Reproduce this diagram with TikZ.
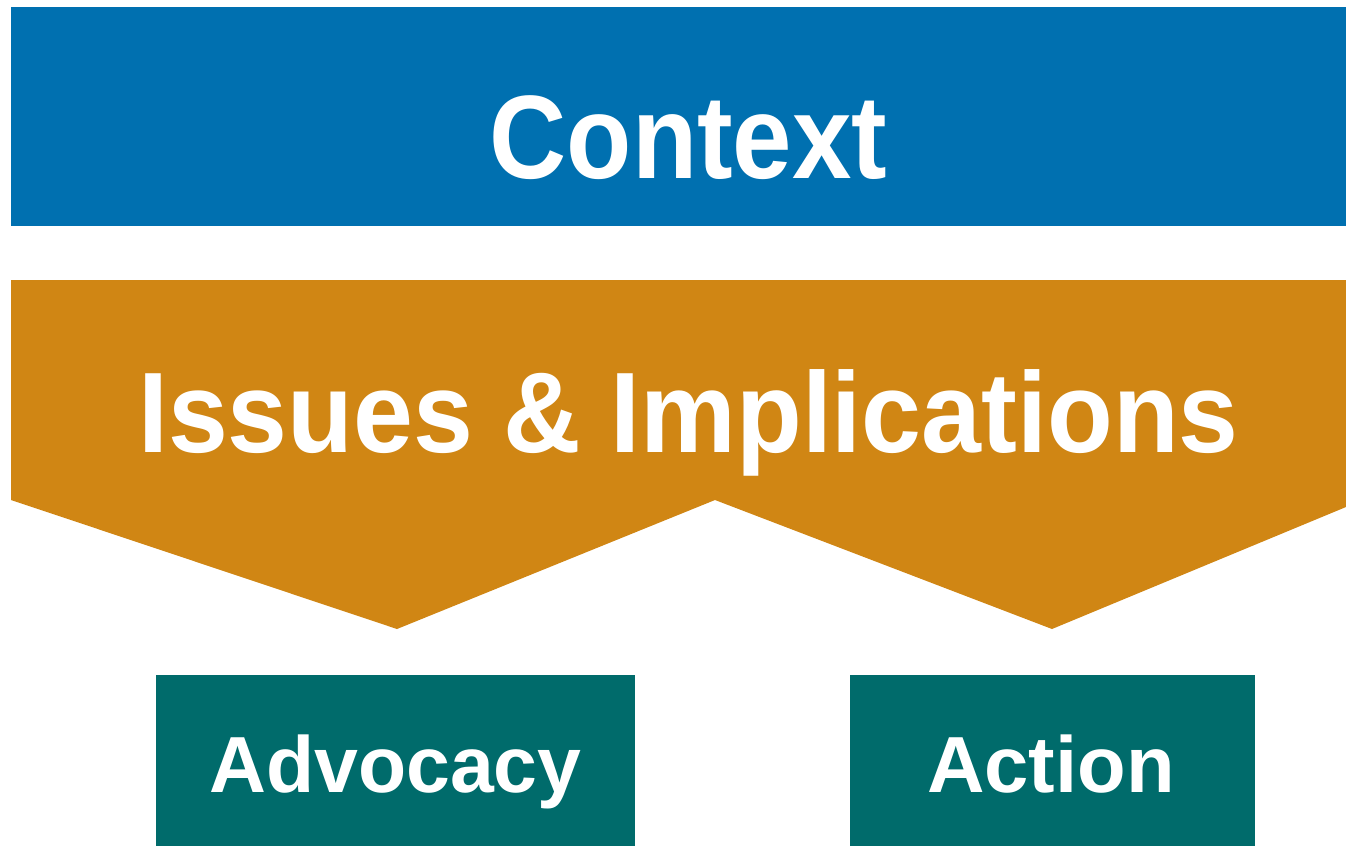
\documentclass[tikz,border=0pt]{standalone}
\usepackage{fontspec}
\setmainfont{Liberation Sans}
\definecolor{ctxblue}{HTML}{0070B0}
\definecolor{issorange}{HTML}{D08614}
\definecolor{actteal}{HTML}{006B6B}
\tikzset{
  boxfill/.style={inner sep=0pt, outer sep=0pt, draw=none},
  lbl/.style={anchor=base, inner sep=0pt, text=white, font=\bfseries},
}
\begin{document}
\begin{tikzpicture}[x=1pt,y=-1pt]
\useasboundingbox (0,0) rectangle (1346,846);
% Context box
\fill[ctxblue] (11,7) rectangle (1346,226);
\node[boxfill, minimum width=1335pt, minimum height=219pt] (ctxbox) at (678.5,116.5) {};
\node[lbl] (ctx) at (688.5,178) {\fontsize{118.7}{120}\selectfont\scalebox{0.90}[1]{Context}};
% Issues & Implications shape
\fill[issorange] (11,280) -- (1346,280) -- (1346,507) -- (1052,629) -- (715,500) -- (397,629) -- (11,500) -- cycle;
\coordinate (issbox) at (678.5,400);
\node[lbl] (iss) at (688.5,452) {\fontsize{114.5}{116}\selectfont\scalebox{0.94}[1]{Issues \& Implications}};
% Advocacy
\fill[actteal] (156,675) rectangle (635,846);
\node[boxfill, minimum width=479pt, minimum height=171pt] (advbox) at (395.5,760.5) {};
\node[lbl] (adv) at (395.5,792) {\fontsize{79.6}{80}\selectfont\scalebox{0.99}[1]{Advocacy}};
% Action
\fill[actteal] (850,675) rectangle (1255,846);
\node[boxfill, minimum width=405pt, minimum height=171pt] (actbox) at (1052.5,760.5) {};
\node[lbl] (act) at (1051,792) {\fontsize{79.6}{80}\selectfont Action};
\end{tikzpicture}
\end{document}
